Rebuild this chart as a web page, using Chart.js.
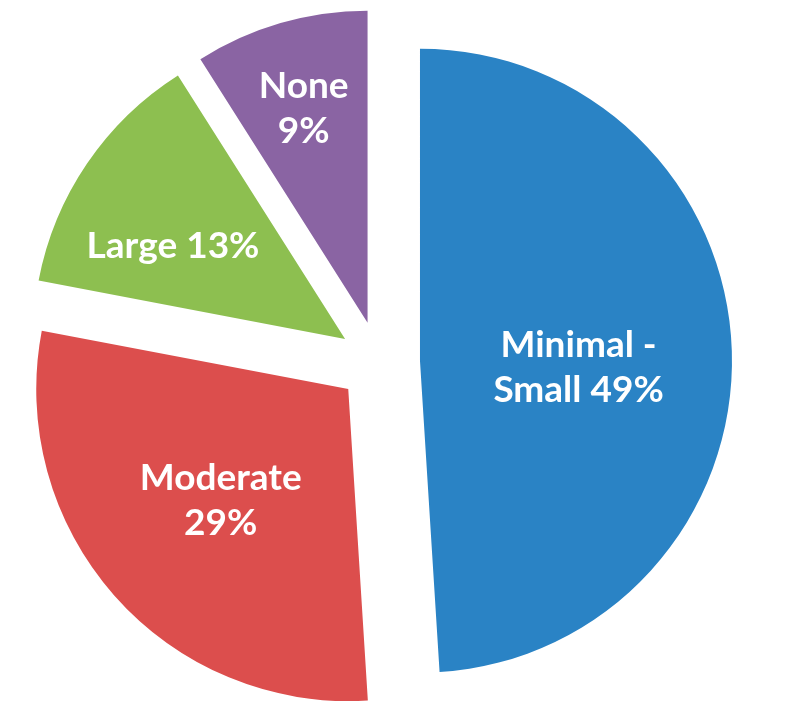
<!DOCTYPE html>
<html>
<head>
<meta charset="utf-8">
<script src="https://cdn.jsdelivr.net/npm/chart.js@4.4.1/dist/chart.umd.min.js"></script>
<style>
  html, body { margin: 0; padding: 0; background: #ffffff; }
  #wrap { width: 800px; height: 710px; }
</style>
</head>
<body>
<div id="wrap"><canvas id="chart" width="800" height="710"></canvas></div>
<script>
const categories = ['Minimal - Small', 'Moderate', 'Large', 'None']
const values = [49, 29, 13, 9]
// how each slice label is broken over lines ({v} = value)
const labelLines = [['Minimal -', 'Small {v}%'], ['Moderate', '{v}%'], ['Large {v}%'], ['None', '{v}%']]
const colors = ['#2A83C5', '#DC4E4D', '#8DBF50', '#8A64A3']

// label placement: distance from centre (share of radius) and a small nudge
const labelDist = [0.64, 0.655, 0.775, 0.865]
const labelNudge = [[0, 12], [-5, 3], [-6, 20], [0, 6]]
const explode = 41

// built-in offset also grows the radius, so push every slice out by hand
const explodeSlices = {
  id: 'explodeSlices',
  beforeDatasetDraw(chart, args) {
    const ctx = chart.ctx
    args.meta.data.forEach(arc => {
      const mid = (arc.startAngle + arc.endAngle) / 2
      ctx.save()
      ctx.translate(Math.cos(mid) * explode, Math.sin(mid) * explode)
      arc.draw(ctx)
      ctx.restore()
    })
    return false
  }
}

const sliceLabels = {
  id: 'sliceLabels',
  afterDatasetsDraw(chart) {
    const ctx = chart.ctx
    const meta = chart.getDatasetMeta(0)
    ctx.save()
    ctx.fillStyle = '#ffffff'
    ctx.font = 'bold 37px Lato'
    ctx.textAlign = 'center'
    ctx.textBaseline = 'middle'
    meta.data.forEach((arc, i) => {
      const p = arc.getProps(['x', 'y', 'startAngle', 'endAngle', 'outerRadius'])
      const mid = (p.startAngle + p.endAngle) / 2
      const d = labelDist[i] * p.outerRadius
      const cx = p.x + Math.cos(mid) * d + labelNudge[i][0]
      const cy = p.y + Math.sin(mid) * d + labelNudge[i][1]
      const lines = labelLines[i].map(s => s.replace('{v}', values[i]))
      const lh = 45
      const top = cy - (lines.length - 1) * lh / 2
      lines.forEach((t, j) => ctx.fillText(t, cx, top + j * lh))
    })
    ctx.restore()
  }
}

new Chart(document.getElementById('chart'), {
  type: 'pie',
  data: {
    labels: categories,
    datasets: [{
      data: values,
      backgroundColor: colors,
      borderWidth: 0,
      radius: 312
    }]
  },
  options: {
    responsive: false,
    animation: false,
    layout: { padding: { top: 14, right: 42 } },
    plugins: {
      legend: { display: false },
      tooltip: { enabled: false }
    }
  },
  plugins: [explodeSlices, sliceLabels]
})
</script>
</body>
</html>
